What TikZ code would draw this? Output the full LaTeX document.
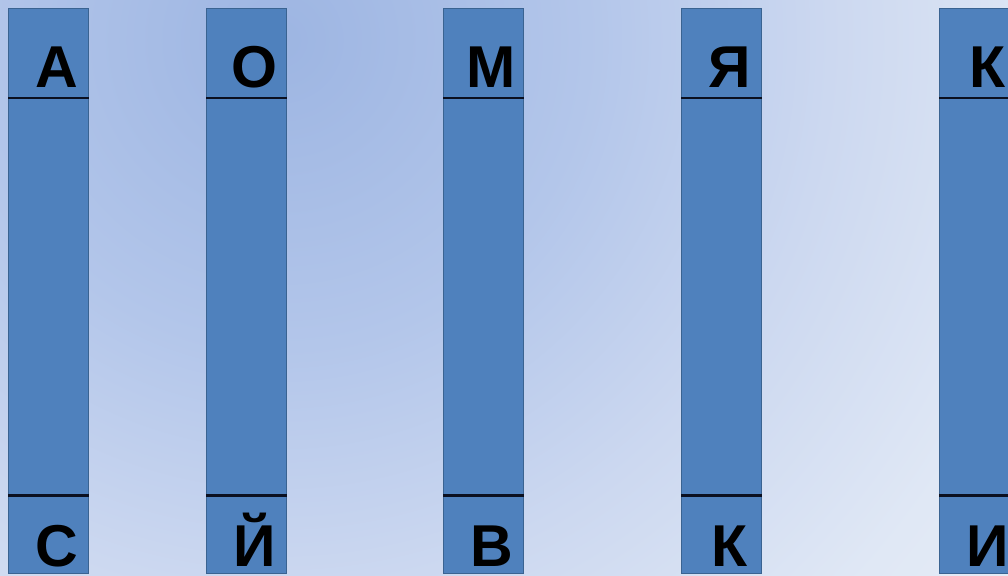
\documentclass[tikz,border=0pt]{standalone}
\usepackage{fontspec}
\setmainfont{Liberation Sans}
\definecolor{barblue}{HTML}{4F81BD}
\definecolor{barline}{HTML}{3A6391}
\definecolor{splitline}{HTML}{0B1020}
\definecolor{bgA}{HTML}{9DB5E2}
\definecolor{bgB}{HTML}{B3C6EA}
\definecolor{bgC}{HTML}{CCD8F0}
\definecolor{bgD}{HTML}{E0E8F5}
\definecolor{bgE}{HTML}{ECF0F8}
\pgfdeclareradialshading{bgglow}{\pgfpoint{0bp}{0bp}}{%
  color(0bp)=(bgA); color(7bp)=(bgB); color(12.5bp)=(bgC);
  color(18bp)=(bgD); color(25bp)=(bgE); color(50bp)=(bgE)}
\begin{document}
\begin{tikzpicture}[
  x=0.025cm, y=-0.025cm,
  bar/.style={draw=barline, fill=barblue, line width=0.7pt, anchor=north west,
    inner sep=0pt, minimum width=2cm, minimum height=14.125cm},
  letter/.style={font=\fontsize{42}{42}\selectfont\bfseries, anchor=base, inner sep=0pt},
  split/.style={draw=splitline, line width=2.1pt}
]
\useasboundingbox (0,0) rectangle (1008,576);
\clip (0,0) rectangle (1008,576);

% background glow
\shade[shading=bgglow] (280,40) circle (1100);

\foreach \x/\t/\b [count=\i] in {8/А/С, 206/О/Й, 443/М/В, 681/Я/К, 939/К/И}{
  \node[bar] (bar\i) at (\x,8) {};
  \draw[split] ([yshift=-2.25cm]bar\i.north west) -- ([yshift=-2.25cm]bar\i.north east);
  \draw[split] ([yshift=-12.175cm]bar\i.north west) -- ([yshift=-12.175cm]bar\i.north east);
  \node[letter] (top\i) at ([xshift=0.2cm, yshift=-1.975cm]bar\i.north) {\t};
  \node[letter] (bot\i) at ([xshift=0.2cm, yshift=-13.95cm]bar\i.north) {\b};
}
\end{tikzpicture}
\end{document}
